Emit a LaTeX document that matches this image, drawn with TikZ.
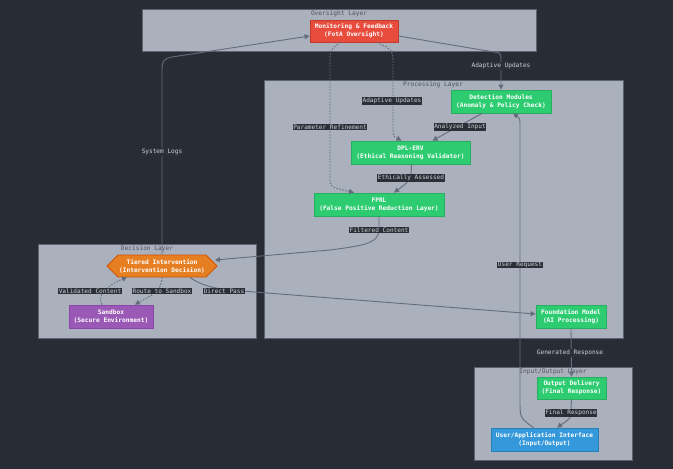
\documentclass[tikz,border=0pt]{standalone}
\usepackage{fontspec}
\newfontfamily\dmono{DejaVu Sans Mono}
\usetikzlibrary{arrows.meta,calc}
\definecolor{bg}{HTML}{282C34}
\definecolor{clfill}{HTML}{ABB0BD}
\definecolor{clborder}{HTML}{5C6370}
\definecolor{edgec}{HTML}{646C7D}
\definecolor{lblbg}{HTML}{2B2F37}
\definecolor{lbltext}{HTML}{CDD1D8}
\definecolor{titlec}{HTML}{4E5360}
\definecolor{gfill}{HTML}{2ECC71}\definecolor{gline}{HTML}{27AE60}
\definecolor{rfill}{HTML}{E74C3C}\definecolor{rline}{HTML}{C0392B}
\definecolor{ofill}{HTML}{E67E22}\definecolor{oline}{HTML}{D35400}
\definecolor{pfill}{HTML}{9B59B6}\definecolor{pline}{HTML}{8E44AD}
\definecolor{bfill}{HTML}{3498DB}\definecolor{bline}{HTML}{2980B9}
\begin{document}
\begin{tikzpicture}[x=1pt,y=-1pt,
  cluster/.style={draw=clborder,fill=clfill,line width=1pt},
  cltitle/.style={font=\dmono\fontsize{6.2}{7}\selectfont,text=titlec,inner sep=0pt},
  box/.style={draw,line width=0.8pt,text=white,align=center,inner sep=0pt,
    font=\dmono\bfseries\fontsize{6.2}{8}\selectfont},
  green/.style={box,fill=gfill,draw=gline},
  edge/.style={draw=edgec,line width=0.9pt,-{Triangle[length=5pt,width=5pt]}},
  dedge/.style={edge,dash pattern=on 1.5pt off 1.5pt},
  lbl/.style={fill=lblbg,text=lbltext,inner sep=0.6pt,font=\dmono\fontsize{6.1}{7}\selectfont}]
\fill[bg] (0,0) rectangle (673,469);
\useasboundingbox (0,0) rectangle (673,469);

% clusters
\draw[cluster] (142,9) rectangle (536,51);
\node[cltitle] (tov) at (339,14) {Oversight Layer};
\draw[cluster] (264,80) rectangle (623,338);
\node[cltitle] (tpr) at (433,85) {Processing Layer};
\draw[cluster] (38,244) rectangle (256,338);
\node[cltitle] (tde) at (147,248.5) {Decision Layer};
\draw[cluster] (474,367) rectangle (632,460);
\node[cltitle] (tio) at (553,371.5) {Input/Output Layer};

% nodes
\node[box,fill=rfill,draw=rline,minimum width=88pt,minimum height=22pt] (mon) at (354,31) {Monitoring \& Feedback\\(FotA Oversight)};
\node[green,minimum width=100pt,minimum height=23pt] (det) at (501,101.5) {Detection Modules\\(Anomaly \& Policy Check)};
\node[green,minimum width=119pt,minimum height=23pt] (dpl) at (410.5,152.5) {DPL-ERV\\(Ethical Reasoning Validator)};
\node[green,minimum width=130pt,minimum height=23pt] (fprl) at (379,204.5) {FPRL\\(False Positive Reduction Layer)};
\node[green,minimum width=70pt,minimum height=23pt] (fnd) at (571,316.5) {Foundation Model\\(AI Processing)};
\fill[ofill,draw=oline,line width=0.8pt] (107,266) -- (118,255) -- (206,255) -- (217,266) -- (206,277) -- (118,277) -- cycle;
\node[box,draw=none,minimum width=110pt,minimum height=22pt] (ti) at (162,266) {Tiered Intervention\\(Intervention Decision)};
\node[box,fill=pfill,draw=pline,minimum width=84pt,minimum height=23pt] (sb) at (111,316.5) {Sandbox\\(Secure Environment)};
\node[green,minimum width=69pt,minimum height=22pt] (out) at (571.5,388) {Output Delivery\\(Final Response)};
\node[box,fill=bfill,draw=bline,minimum width=107pt,minimum height=23pt] (ui) at (544.5,439.5) {User/Application Interface\\(Input/Output)};

% edges
\path[edge] (ti.north) -- (162,70) .. controls (162,60) and (164,59) .. (172,57) -- ([yshift=-5pt]mon.west);
\path[edge] ([yshift=-5pt]mon.east) -- (494,52) .. controls (501,53) .. (501,62) -- (det.north);
\path[dedge] ([xshift=23pt]mon.south) .. controls (393,50) .. (393,66) -- (393,128) .. controls (393,136) .. ([xshift=-9pt]dpl.north);
\path[dedge] ([xshift=-14pt]mon.south) .. controls (330,50) .. (330,66) -- (330,178) .. controls (330,187) .. ([xshift=-25pt]fprl.north);
\path[edge] ([xshift=-19pt]det.south) -- ([xshift=22pt]dpl.north);
\path[edge] ([xshift=1pt]dpl.south) .. controls (411,180) .. ([xshift=15pt]fprl.north);
\path[edge] (fprl.south) -- (379,230) .. controls (379,244) and (360,246) .. (330,250) -- (215,260);
\path[edge] ([xshift=28pt]ti.south) .. controls (200,285) and (215,289) .. (235,290.5) -- ([yshift=2.5pt]fnd.west);
\path[dedge] (ti.south) .. controls (162,292) and (150,296) .. ([xshift=24pt]sb.north);
\path[dedge] ([xshift=-9pt]sb.north) .. controls (96,294) and (110,284) .. ([xshift=-35pt]ti.south);
\path[edge] (fnd.south) -- (out.north);
\path[edge] (out.south) -- (571,410) .. controls (571,418) .. ([xshift=12.5pt]ui.north);
\path[edge] ([xshift=-11pt]ui.north) .. controls (520,418) .. (520,400) -- (520,128) .. controls (520,118) .. ([xshift=12pt]det.south);

% labels
\node[lbl] (l1) at (162,152) {System Logs};
\node[lbl] (l2) at (501,66) {Adaptive Updates};
\node[lbl] (l3) at (392,101) {Adaptive Updates};
\node[lbl] (l4) at (330,127) {Parameter Refinement};
\node[lbl] (l5) at (460,127) {Analyzed Input};
\node[lbl] (l6) at (411,178) {Ethically Assessed};
\node[lbl] (l7) at (379,230) {Filtered Content};
\node[lbl] (l8) at (90,291) {Validated Content};
\node[lbl] (l9) at (162,291) {Route to Sandbox};
\node[lbl] (l10) at (224,291) {Direct Pass};
\node[lbl] (l11) at (520,265) {User Request};
\node[lbl] (l12) at (570,353) {Generated Response};
\node[lbl] (l13) at (571,413) {Final Response};
\end{tikzpicture}
\end{document}
